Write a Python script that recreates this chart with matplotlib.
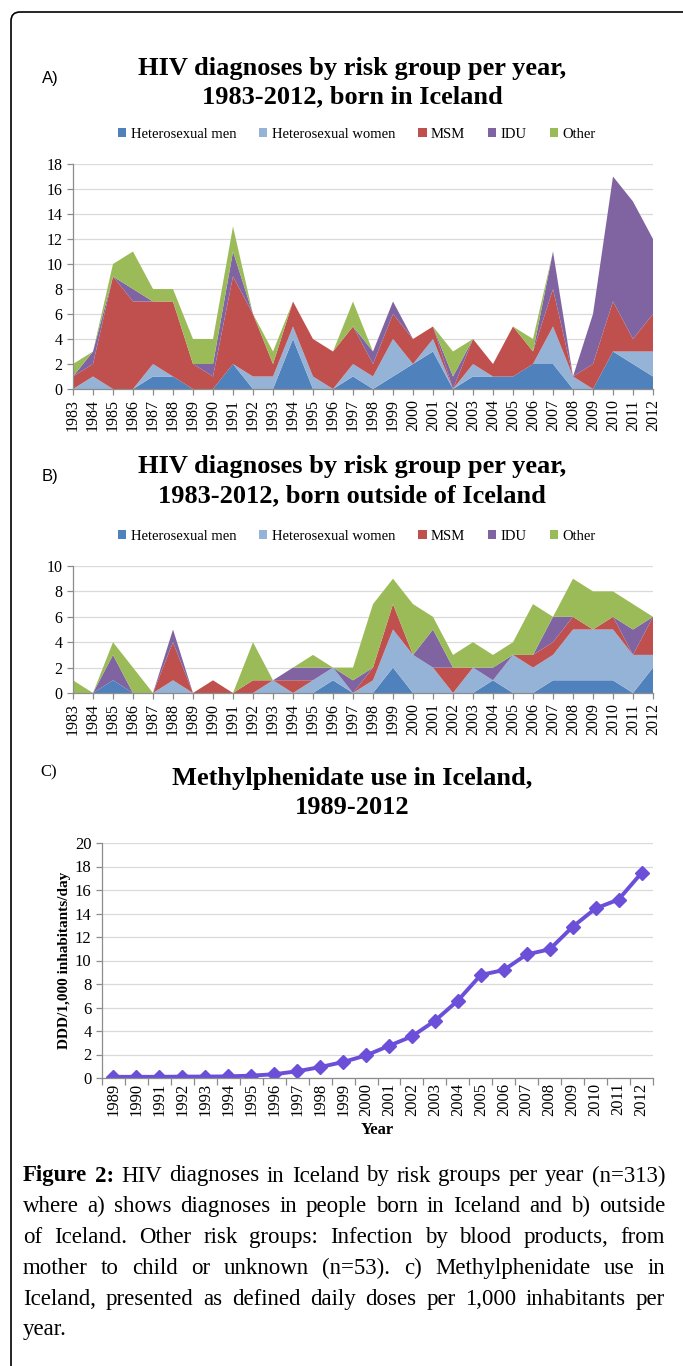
import matplotlib
matplotlib.use("Agg")
import matplotlib.pyplot as plt
from matplotlib.patches import FancyBboxPatch, Patch

plt.rcParams['font.family'] = ['Liberation Serif', 'DejaVu Serif']

groups = ["Heterosexual men", "Heterosexual women", "MSM", "IDU", "Other"]
colors = ["#4F81BD", "#95B3D7", "#C0504D", "#8064A2", "#9BBB59"]
years = list(range(1983, 2013))

# A) born in Iceland
a_men   = [0, 0, 0, 0, 1, 1, 0, 0, 2, 0, 0, 4, 0, 0, 1, 0, 1, 2, 3, 0, 1, 1, 1, 2, 2, 0, 0, 3, 2, 1]
a_women = [0, 1, 0, 0, 1, 0, 0, 0, 0, 1, 1, 1, 1, 0, 1, 1, 3, 0, 1, 0, 1, 0, 0, 0, 3, 1, 0, 0, 1, 2]
a_msm   = [1, 1, 9, 7, 5, 6, 2, 1, 7, 5, 1, 2, 3, 3, 3, 1, 2, 2, 1, 0, 2, 1, 4, 1, 3, 0, 2, 4, 1, 3]
a_idu   = [0, 1, 0, 1, 0, 0, 0, 1, 2, 0, 0, 0, 0, 0, 0, 1, 1, 0, 0, 1, 0, 0, 0, 0, 3, 0, 4, 10, 11, 6]
a_other = [1, 0, 1, 3, 1, 1, 2, 2, 2, 0, 1, 0, 0, 0, 2, 0, 0, 0, 0, 2, 0, 0, 0, 1, 0, 0, 0, 0, 0, 0]

# B) born outside of Iceland
b_men   = [0, 0, 1, 0, 0, 0, 0, 0, 0, 0, 0, 0, 0, 1, 0, 0, 2, 0, 0, 0, 0, 1, 0, 0, 1, 1, 1, 1, 0, 2]
b_women = [0, 0, 0, 0, 0, 1, 0, 0, 0, 0, 1, 0, 1, 1, 0, 1, 3, 3, 2, 0, 2, 0, 3, 2, 2, 4, 4, 4, 3, 1]
b_msm   = [0, 0, 0, 0, 0, 3, 0, 1, 0, 1, 0, 1, 0, 0, 0, 1, 2, 0, 0, 2, 0, 0, 0, 1, 1, 1, 0, 1, 0, 3]
b_idu   = [0, 0, 2, 0, 0, 1, 0, 0, 0, 0, 0, 1, 1, 0, 1, 0, 0, 0, 3, 0, 0, 1, 0, 0, 2, 0, 0, 0, 2, 0]
b_other = [1, 0, 1, 2, 0, 0, 0, 0, 0, 3, 0, 0, 1, 0, 1, 5, 2, 4, 1, 1, 2, 1, 1, 4, 0, 3, 3, 2, 2, 0]

# C) methylphenidate
c_years = [str(y) for y in range(1989, 2013)]
c_ddd = [0.1, 0.1, 0.1, 0.12, 0.12, 0.14, 0.2, 0.32, 0.57, 0.93, 1.36, 1.92, 2.74, 3.54,
         4.87, 6.59, 8.77, 9.19, 10.52, 10.95, 12.87, 14.43, 15.19, 17.45]

cap_lines = [
    "Figure 2: HIV diagnoses in Iceland by risk groups per year (n=313)",
    "where a) shows diagnoses in people born in Iceland and b) outside",
    "of Iceland. Other risk groups: Infection by blood products, from",
    "mother to child or unknown (n=53). c) Methylphenidate use in",
    "Iceland, presented as defined daily doses per 1,000 inhabitants per",
    "year.",
]

W, H = 683, 1366
fig = plt.figure(figsize=(W / 100, H / 100), dpi=100)

# overlay axes in pixel coordinates for texts and frame
ax0 = fig.add_axes([0, 0, 1, 1])
ax0.set_xlim(0, W)
ax0.set_ylim(H, 0)
ax0.axis("off")
ax0.add_patch(FancyBboxPatch((11, 12), 720, 1400, boxstyle="round,pad=0,rounding_size=9",
                             fc="none", ec="black", lw=1.2))


def px_axes(left, top, right, bottom):
    return fig.add_axes([left / W, 1 - bottom / H, (right - left) / W, (bottom - top) / H])


def style(ax):
    for s in ["top", "right"]:
        ax.spines[s].set_visible(False)
    for s in ["left", "bottom"]:
        ax.spines[s].set_color("#8C8C8C")
        ax.spines[s].set_linewidth(0.9)
    ax.yaxis.grid(True, color="#DADADA", lw=0.9)
    ax.set_axisbelow(True)
    ax.tick_params(colors="#8C8C8C", labelcolor="black", length=4, width=0.9)


def area_panel(top, bottom, data, ymax, step):
    ax = px_axes(73, top, 653, bottom)
    ax.stackplot(years, *data, colors=colors, lw=0)
    ax.set_xlim(1983, 2012)
    ax.set_ylim(0, ymax)
    ax.set_yticks(range(0, ymax + 1, step))
    ax.set_xticks(years)
    ax.set_xticklabels([str(y) for y in years], rotation=90, fontsize=11.5)
    ax.tick_params(axis="y", labelsize=11.5)
    style(ax)
    return ax


area_panel(164, 389, [a_men, a_women, a_msm, a_idu, a_other], 18, 2)
area_panel(566, 693, [b_men, b_women, b_msm, b_idu, b_other], 10, 2)

# titles + legends for A and B
handles = [Patch(fc=c, ec="none") for c in colors]
for lab, y1, y2, ly in [("A)", 68, 97, 134), ("B)", 466, 496, 536)]:
    ax0.text(42, (y1 + y2) / 2 - 4, lab, family="Liberation Sans", fontsize=12, va="center")
    ax0.text(352, y1, "HIV diagnoses by risk group per year,", fontsize=19, fontweight="bold",
             ha="center", va="center")
    ax0.text(352, y2, "1983-2012, born in Iceland" if lab == "A)" else
             "1983-2012, born outside of Iceland", fontsize=19, fontweight="bold",
             ha="center", va="center")
    fig.legend(handles, groups, loc="center", bbox_to_anchor=(357 / W, 1 - ly / H), ncol=5,
               frameon=False, fontsize=10.5, handlelength=0.55, handleheight=0.55,
               handletextpad=0.3, columnspacing=1.6)

# C) line chart
axc = px_axes(102, 843, 653, 1078)
xc = list(range(len(c_years)))
axc.plot(xc, c_ddd, color="#6B4FD8", lw=2.8, marker="D", ms=7)
axc.set_xlim(-0.5, len(c_years) - 0.5)
axc.set_ylim(0, 20)
axc.set_yticks(range(0, 21, 2))
axc.set_xticks(xc)
axc.set_xticklabels(c_years, rotation=90, fontsize=12)
axc.set_xticks([i - 0.5 for i in range(len(c_years) + 1)], minor=True)
axc.tick_params(axis="y", labelsize=12)
style(axc)
axc.tick_params(axis="x", which="major", length=0)
axc.tick_params(axis="x", which="minor", length=5, colors="#8C8C8C", width=0.9)
axc.set_ylabel("DDD/1,000 inhabitants/day", fontsize=11, fontweight="bold", labelpad=3)
axc.set_xlabel("Year", fontsize=12, fontweight="bold", labelpad=4)

ax0.text(40, 772, "C)", fontsize=12, va="center")
ax0.text(352, 778, "Methylphenidate use in Iceland,", fontsize=19, fontweight="bold",
         ha="center", va="center")
ax0.text(352, 808, "1989-2012", fontsize=19, fontweight="bold", ha="center", va="center")

# justified caption
fig.canvas.draw()
r = fig.canvas.get_renderer()
x0, x1 = 23, 665
for i, line in enumerate(cap_lines):
    y = 1176 + i * 30.8
    words = line.split()
    objs = []
    for j, w in enumerate(words):
        bold = (i == 0 and j < 2)
        t = ax0.text(0, y, w, fontsize=16.5, va="center", ha="left",
                     fontweight="bold" if bold else "normal")
        objs.append(t)
    widths = [t.get_window_extent(renderer=r).width for t in objs]
    if i == len(cap_lines) - 1:
        gap = 5
    else:
        gap = (x1 - x0 - sum(widths)) / (len(words) - 1)
    x = x0
    for t, wdt in zip(objs, widths):
        t.set_x(x)
        x += wdt + gap

fig.savefig("out.png", dpi=100)
